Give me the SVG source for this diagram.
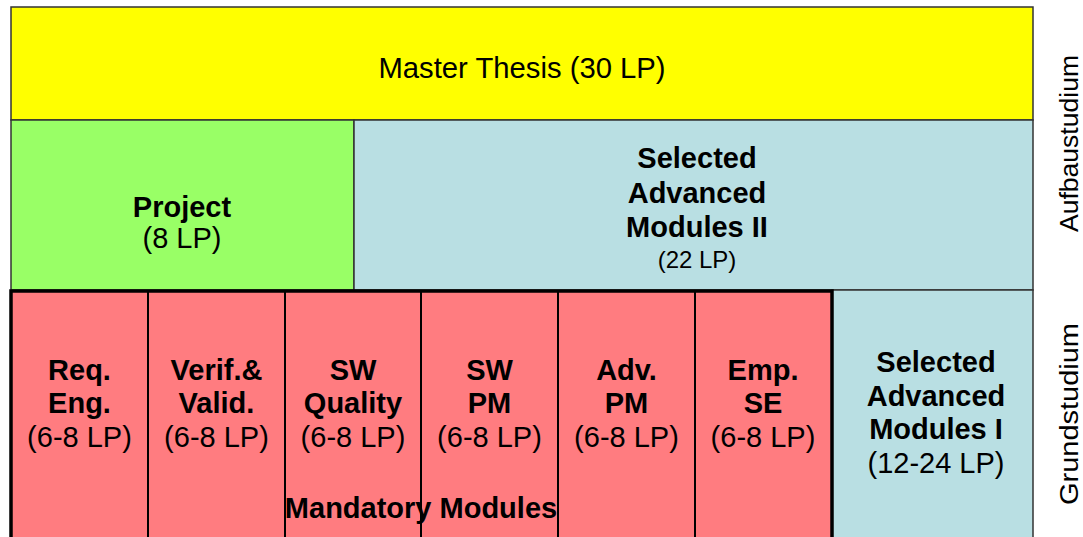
<svg xmlns="http://www.w3.org/2000/svg" width="1083" height="537" viewBox="0 0 1083 537">
<style>
.box{stroke:#333;stroke-width:1.5}
.yel{fill:#FFFF00}
.grn{fill:#99FF66}
.blu{fill:#B9DFE3}
.red{fill:#FF7C80;stroke:#000;stroke-width:2}
text{font-family:"Liberation Sans",Arial,sans-serif;fill:#000;text-anchor:middle}
.b{font-weight:bold;font-size:29px}
.r{font-size:29px}
.s{font-size:24px}
.side{font-size:25px}
</style>
<rect width="1083" height="537" fill="#fff"/>
<g id="thesis">
<rect class="box yel" x="11" y="7" width="1022" height="113"/>
<text class="r" x="522" y="78" textLength="287" lengthAdjust="spacingAndGlyphs">Master Thesis (30 LP)</text>
</g>
<g id="project">
<rect class="box grn" x="11" y="120" width="343" height="170"/>
<text class="b" x="182" y="217">Project</text>
<text class="r" x="182" y="248">(8 LP)</text>
</g>
<g id="advanced2">
<rect class="box blu" x="354" y="120" width="679" height="170"/>
<text class="b" x="697" y="168">Selected</text>
<text class="b" x="697" y="203">Advanced</text>
<text class="b" x="697" y="237">Modules II</text>
<text class="s" x="697" y="268">(22 LP)</text>
</g>
<g id="advanced1">
<rect class="box blu" x="832" y="290" width="201" height="260"/>
<text class="b" x="936" y="372">Selected</text>
<text class="b" x="936" y="406">Advanced</text>
<text class="b" x="936" y="439">Modules I</text>
<text class="r" x="936" y="473">(12-24 LP)</text>
</g>
<g id="mandatory">
<g id="reqeng">
<rect class="red" x="11" y="291" width="137" height="260"/>
<text class="b" x="79.5" y="380">Req.</text>
<text class="b" x="79.5" y="413">Eng.</text>
<text class="r" x="79.5" y="447">(6-8 LP)</text>
</g>
<g id="verif">
<rect class="red" x="148" y="291" width="137" height="260"/>
<text class="b" x="216.5" y="380">Verif.&amp;</text>
<text class="b" x="216.5" y="413">Valid.</text>
<text class="r" x="216.5" y="447">(6-8 LP)</text>
</g>
<g id="swquality">
<rect class="red" x="285" y="291" width="136" height="260"/>
<text class="b" x="353" y="380">SW</text>
<text class="b" x="353" y="413">Quality</text>
<text class="r" x="353" y="447">(6-8 LP)</text>
</g>
<g id="swpm">
<rect class="red" x="421" y="291" width="137" height="260"/>
<text class="b" x="489.5" y="380">SW</text>
<text class="b" x="489.5" y="413">PM</text>
<text class="r" x="489.5" y="447">(6-8 LP)</text>
</g>
<g id="advpm">
<rect class="red" x="558" y="291" width="137" height="260"/>
<text class="b" x="626.5" y="380">Adv.</text>
<text class="b" x="626.5" y="413">PM</text>
<text class="r" x="626.5" y="447">(6-8 LP)</text>
</g>
<g id="empse">
<rect class="red" x="695" y="291" width="137" height="260"/>
<text class="b" x="763" y="380">Emp.</text>
<text class="b" x="763" y="413">SE</text>
<text class="r" x="763" y="447">(6-8 LP)</text>
</g>
<rect x="11" y="291" width="821" height="260" fill="none" stroke="#000" stroke-width="3.5"/>
<text class="b" x="421" y="518">Mandatory Modules</text>
</g>
<g id="labels">
<text class="side" transform="translate(1078,143.5) rotate(-90)" textLength="177" lengthAdjust="spacingAndGlyphs">Aufbaustudium</text>
<text class="side" transform="translate(1078,414) rotate(-90)" textLength="182" lengthAdjust="spacingAndGlyphs">Grundstudium</text>
</g>
<g id="connectors"></g>
</svg>
